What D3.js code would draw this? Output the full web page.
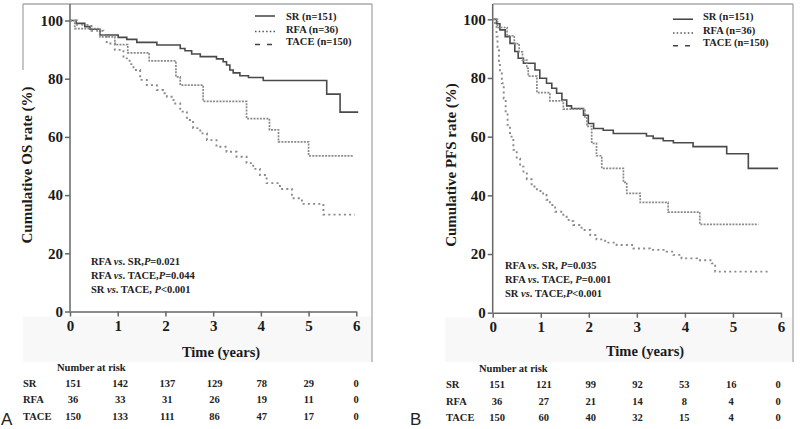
<!DOCTYPE html>
<html><head><meta charset="utf-8">
<script src="https://cdnjs.cloudflare.com/ajax/libs/d3/7.8.5/d3.min.js"></script>
<style>
body{margin:0;background:#fff}
svg{display:block;font-family:"Liberation Serif","Times New Roman",serif;font-weight:bold}
</style>
</head><body>
<svg id="c" width="800" height="429"></svg>
<script>
// ---------- data ----------
const years = [0, 1, 2, 3, 4, 5, 6];
const yTicks = [0, 20, 40, 60, 80, 100];
const groups = ["SR", "RFA", "TACE"];
const legendLabels = ["SR (n=151)", "RFA (n=36)", "TACE (n=150)"];

// Overall survival (panel A): [time (years), survival %]
const osSR = [[0,100],[0.13,99.0],[0.31,97.9],[0.42,97.0],[0.63,95.0],[1.01,94.2],[1.19,93.5],[1.40,92.5],[1.82,91.6],[2.31,90.4],[2.41,89.6],[2.55,88.5],[2.73,87.6],[3.07,86.8],[3.21,85.8],[3.28,84.7],[3.35,83.0],[3.42,82.0],[3.56,81.0],[3.74,80.4],[4.05,79.4],[5.38,74.7],[5.66,68.5],[6.04,68.5]];
const osRFA = [[0,100],[0.1,97.2],[0.63,94.4],[0.94,91.7],[1.21,88.9],[1.66,86.1],[2.22,80.6],[2.31,77.8],[2.79,72.2],[3.70,66.3],[4.18,62.4],[4.37,58.3],[5.00,53.5],[5.94,53.5]];
const osTACE = [[0,100],[0.15,98.5],[0.45,96.5],[0.70,94.4],[0.77,92.1],[0.94,89.9],[1.12,87.0],[1.25,85.0],[1.33,83.0],[1.47,79.6],[1.61,77.8],[1.82,76.1],[1.95,75.0],[2.03,73.8],[2.17,71.5],[2.31,68.7],[2.45,65.8],[2.58,63.0],[2.73,61.2],[2.87,58.9],[3.07,56.6],[3.28,54.9],[3.49,53.2],[3.70,51.0],[3.84,49.0],[3.98,46.9],[4.12,44.1],[4.40,42.1],[4.65,38.9],[4.86,37.0],[5.31,33.3],[5.97,33.3]];

// Progression-free survival (panel B)
const pfsSR = [[0,100],[0.08,98.5],[0.15,96.4],[0.26,94.1],[0.36,91.8],[0.46,89.0],[0.53,86.7],[0.64,85.0],[0.88,82.7],[0.98,79.9],[1.12,78.2],[1.23,76.5],[1.33,74.8],[1.44,72.5],[1.54,70.5],[1.64,69.6],[1.89,67.3],[1.99,64.5],[2.10,62.8],[2.30,62.2],[2.51,61.1],[3.20,60.2],[3.34,59.4],[3.55,58.6],[3.76,57.9],[4.17,56.6],[4.87,54.2],[5.32,49.2],[5.94,49.2]];
const pfsRFA = [[0,100],[0.1,97.2],[0.3,94.4],[0.45,91.7],[0.55,88.9],[0.62,86.1],[0.71,83.3],[0.74,80.6],[0.92,75.0],[1.19,72.2],[1.47,69.4],[1.92,66.4],[1.96,63.5],[2.06,57.7],[2.16,53.5],[2.27,49.2],[2.72,44.4],[2.79,40.7],[3.07,37.6],[3.65,34.3],[4.31,30.1],[5.53,30.1]];
const pfsTACE = [[0,100],[0.05,97.5],[0.08,94.1],[0.10,89.5],[0.13,85.0],[0.15,82.0],[0.19,78.2],[0.23,73.0],[0.27,68.0],[0.31,64.0],[0.36,60.0],[0.43,55.5],[0.50,52.5],[0.57,49.8],[0.64,47.5],[0.71,45.5],[0.81,43.0],[0.92,41.5],[1.05,40.1],[1.12,38.5],[1.19,36.7],[1.30,34.4],[1.47,32.7],[1.58,31.2],[1.68,29.9],[1.85,28.2],[2.03,26.5],[2.16,25.0],[2.34,23.9],[2.58,23.1],[2.93,21.9],[3.27,21.4],[3.62,20.8],[3.76,19.7],[3.93,18.5],[4.25,17.9],[4.56,16.8],[4.63,14.0],[5.74,14.0]];

// Number at risk
const riskOS_SR = [151, 142, 137, 129, 78, 29, 0];
const riskOS_RFA = [36, 33, 31, 26, 19, 11, 0];
const riskOS_TACE = [150, 133, 111, 86, 47, 17, 0];
const riskPFS_SR = [151, 121, 99, 92, 53, 16, 0];
const riskPFS_RFA = [36, 27, 21, 14, 8, 4, 0];
const riskPFS_TACE = [150, 60, 40, 32, 15, 4, 0];

const annotOS = [["RFA ","vs",". SR,","P","=0.021"],["RFA ","vs",". TACE,","P","=0.044"],["SR ","vs",". TACE, ","P","<0.001"]];
const annotPFS = [["RFA ","vs",". SR, ","P","=0.035"],["RFA ","vs",". TACE, ","P","=0.001"],["SR ","vs",". TACE,","P","<0.001"]];

// ---------- drawing ----------
const svg = d3.select("#c");
const styles = {
  SR:   {stroke:"#4a4a4a", dash:null, w:1.6},
  RFA:  {stroke:"#8a8a8a", dash:"2,1.2", w:1.7},
  TACE: {stroke:"#8a8a8a", dash:"2,3.2", w:1.9}
};

function panel(cfg) {
  const g = svg.append("g");
  const x = d3.scaleLinear().domain([0, 6]).range([cfg.x0, cfg.x6]);
  const y = d3.scaleLinear().domain([0, 100]).range([cfg.y0, cfg.y100]);

  // faint band and frame
  g.append("rect").attr("x", cfg.fx0).attr("y", cfg.y0 + 5).attr("width", cfg.fx1 - cfg.fx0).attr("height", 362 - cfg.y0 - 5).attr("fill", "#f8f8f8");
  g.append("line").attr("x1", cfg.topStart).attr("x2", cfg.fx1).attr("y1", 4).attr("y2", 4).attr("stroke", "#a8a8a8").attr("stroke-width", 1.3);
  g.append("line").attr("x1", cfg.fx1).attr("x2", cfg.fx1).attr("y1", 4).attr("y2", 362).attr("stroke", "#a8a8a8").attr("stroke-width", 1.3);
  if (cfg.leftEdge) g.append("line").attr("x1", cfg.fx0).attr("x2", cfg.fx0).attr("y1", 4).attr("y2", 70).attr("stroke", "#a8a8a8").attr("stroke-width", 1.3);

  // axes
  g.append("line").attr("x1", cfg.x0).attr("x2", cfg.x0).attr("y1", 4).attr("y2", cfg.y0).attr("stroke", "#666").attr("stroke-width", 1.5);
  const xa = g.append("g").attr("transform", `translate(0,${cfg.y0})`)
    .call(d3.axisBottom(x).tickValues(years).tickSize(5).tickSizeOuter(0).tickPadding(4).tickFormat(d3.format("d")));
  const ya = g.append("g").attr("transform", `translate(${cfg.x0},0)`)
    .call(d3.axisLeft(y).tickValues(yTicks).tickSize(5).tickSizeOuter(0).tickPadding(2));
  [xa, ya].forEach(a => {
    a.select(".domain").attr("stroke", "#666").attr("stroke-width", 1.5);
    a.selectAll(".tick line").attr("stroke", "#666").attr("stroke-width", 1.5);
    a.selectAll("text").attr("font-family", "Liberation Serif, serif").attr("font-weight", "bold").attr("font-size", 15).attr("fill", "#1a1a1a");
  });
  ya.select(".domain").remove();

  // axis titles
  g.append("text").attr("x", cfg.xtX).attr("y", cfg.xtY).attr("text-anchor", "middle").attr("font-size", 14.5).attr("fill", "#1a1a1a").text("Time (years)");
  g.append("text").attr("transform", `translate(${cfg.ytX},${cfg.ytY}) rotate(-90)`).attr("text-anchor", "middle").attr("dy", "0.35em").attr("font-size", 15).attr("fill", "#1a1a1a").text(cfg.ytitle);

  // curves
  const line = d3.line().x(d => x(d[0])).y(d => y(d[1])).curve(d3.curveStepAfter);
  cfg.series.forEach((s, i) => {
    const st = styles[groups[i]];
    g.append("path").datum(s).attr("d", line).attr("fill", "none").attr("stroke", st.stroke).attr("stroke-width", st.w).attr("stroke-dasharray", st.dash);
  });

  // legend
  const leg = [
    {dash:null, stroke:"#333", w:1.4},
    {dash:"1.5,2.2", stroke:"#555", w:1.5},
    {dash:"5,7", stroke:"#444", w:1.5}
  ];
  groups.forEach((gName, i) => {
    const ly = cfg.legY[i];
    g.append("line").attr("x1", cfg.legX).attr("x2", cfg.legX + 20).attr("y1", ly + cfg.legLineOff[i]).attr("y2", ly + cfg.legLineOff[i])
      .attr("stroke", leg[i].stroke).attr("stroke-width", leg[i].w).attr("stroke-dasharray", leg[i].dash);
    g.append("text").attr("x", cfg.legTX).attr("y", ly).attr("dy", "0.35em").attr("font-size", 10.5).attr("fill", "#222").text(legendLabels[i]);
  });

  // annotations
  cfg.annot.forEach((parts, i) => {
    const t = g.append("text").attr("x", cfg.anX).attr("y", cfg.anY[i]).attr("font-size", 10.5).attr("fill", "#222");
    t.append("tspan").text(parts[0]);
    t.append("tspan").attr("font-style", "italic").text(parts[1]);
    t.append("tspan").text(parts[2]);
    t.append("tspan").attr("font-style", "italic").text(parts[3]);
    t.append("tspan").text(parts[4]);
  });

  // number at risk table
  const tx = d3.scaleLinear().domain([0, 6]).range(cfg.tableRange);
  g.append("text").attr("x", cfg.narX).attr("y", cfg.narY).attr("font-size", 10.5).attr("fill", "#222").text("Number at risk");
  cfg.risk.forEach((row, i) => {
    g.append("text").attr("x", cfg.rowX).attr("y", cfg.rowY[i]).attr("font-size", 10.5).attr("fill", "#222").text(groups[i]);
    g.selectAll(null).data(row).enter().append("text")
      .attr("x", (d, j) => tx(years[j])).attr("y", cfg.rowY[i]).attr("text-anchor", "middle")
      .attr("font-size", 10.5).attr("fill", "#222").text(d => d);
  });

  // panel letter
  g.append("text").attr("x", cfg.letterX).attr("y", 425).attr("font-family", "Liberation Sans, Arial, sans-serif")
    .attr("font-weight", "normal").attr("font-size", 17).attr("fill", "#222").text(cfg.letter);
}

panel({
  x0: 70, x6: 356.3, y0: 311.5, y100: 20.5,
  fx0: 23, fx1: 372, topStart: 23, leftEdge: true,
  xtX: 221, xtY: 356.5, ytX: 27, ytY: 165, ytitle: "Cumulative OS rate (%)",
  series: [osSR, osRFA, osTACE],
  legX: 255, legTX: 286, legY: [16, 29, 41.5], legLineOff: [0, 2.5, 3],
  annot: annotOS, anX: 91, anY: [265, 279, 293],
  risk: [riskOS_SR, riskOS_RFA, riskOS_TACE], tableRange: [73, 356],
  narX: 57, narY: 371, rowX: 23, rowY: [387, 403, 420],
  letter: "A", letterX: 1
});

panel({
  x0: 492.7, x6: 781, y0: 312.7, y100: 19.3,
  fx0: 445, fx1: 793, topStart: 492.7, leftEdge: false,
  xtX: 645, xtY: 355.5, ytX: 451, ytY: 165, ytitle: "Cumulative PFS rate (%)",
  series: [pfsSR, pfsRFA, pfsTACE],
  legX: 673, legTX: 703, legY: [16.7, 30, 42.7], legLineOff: [2.5, 3, 3],
  annot: annotPFS, anX: 505, anY: [269, 283, 297],
  risk: [riskPFS_SR, riskPFS_RFA, riskPFS_TACE], tableRange: [497, 778],
  narX: 479, narY: 372, rowX: 446, rowY: [388, 405, 421],
  letter: "B", letterX: 410
});
</script>
</body></html>
